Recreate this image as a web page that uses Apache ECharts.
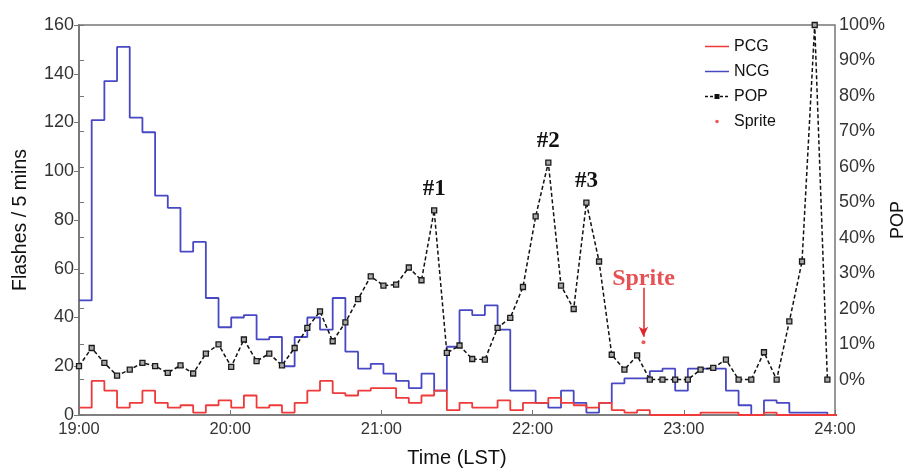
<!DOCTYPE html>
<html>
<head>
<meta charset="utf-8">
<script src="https://cdn.jsdelivr.net/npm/echarts@6/dist/echarts.min.js"></script>
<style>
  html, body { margin: 0; padding: 0; background: #fff; }
  #chart { width: 906px; height: 469px; }
</style>
</head>
<body>
<div id="chart"></div>
<script>
// Lightning flashes per 5-minute bin, 19:00–24:00 LST (60 bins)
const tickLabels = ['19:00', '20:00', '21:00', '22:00', '23:00', '24:00'];

const pcg = [3, 14, 10, 3, 5, 10, 5, 3, 4, 1, 4, 6, 3, 8, 3, 4, 1, 5, 10, 14,
             9, 8, 10, 11, 11, 7, 5, 8, 10, 2, 5, 3, 3, 6, 2, 5, 5, 7, 5, 4,
             3, 5, 2, 1, 2, 0, 0, 0, 0, 1, 1, 1, 0, 0, 1, 0, 0, 0, 0, 0];

const ncg = [47, 121, 137, 151, 122, 116, 90, 85, 67, 71, 48, 36, 40, 41, 31, 32, 20, 32, 40, 35,
             48, 26, 19, 21, 17, 14, 11, 17, 10, 28, 43, 41, 45, 35, 10, 10, 5, 3, 10, 5,
             1, 5, 13, 15, 15, 18, 19, 10, 19, 19, 19, 10, 4, 0, 6, 5, 1, 1, 1, 0];

// Percentage of positive CG flashes (%)
const pop = [3.8, 8.9, 4.7, 1.1, 2.8, 4.7, 3.8, 1.9, 4.0, 1.7, 7.3, 9.9, 3.6, 11.3, 5.2, 7.3, 4.0, 8.9, 14.6, 19.2,
             10.8, 16.1, 22.7, 29.1, 26.5, 26.8, 31.6, 28.0, 47.7, 7.5, 9.6, 5.8, 5.6, 14.6, 17.4, 26.1, 46.0, 61.2, 26.5, 19.9,
             49.9, 33.3, 7.0, 2.8, 6.8, 0, 0, 0, 0, 2.8, 3.3, 5.6, 0, 0, 7.7, 0, 16.4, 33.3, 100, 0];

// Sprite event: [bin position, POP %]
const sprite = [[44.5, 10.5]];

// Labelled POP peaks: [bin index, text]
const peakLabels = [[28, '#1'], [37, '#2'], [40, '#3']];

const RED = '#ee3a3a';
const BLUE = '#4848c4';
const AXIS = '#777';
const SANS = '"Liberation Sans", Arial, sans-serif';
const SERIF = '"Liberation Serif", "Times New Roman", serif';

// Hidden bin axis: the drawn frame spans this many 5-minute bins
const binAxisMax = 59.6;

function stepData(values) {
  const d = values.map((v, i) => [i, v]);
  d.push([values.length, values[values.length - 1]]);
  return d;
}

const popData = pop.map((v, i) => {
  const peak = peakLabels.find(p => p[0] === i);
  if (!peak) return [i, v];
  return {
    value: [i, v],
    label: {
      show: true, position: 'top', distance: 7,
      formatter: peak[1],
      fontFamily: SERIF, fontWeight: 'bold', fontSize: 23, color: '#111'
    }
  };
});

// Legend keys drawn as small SVG images
function svgIcon(body) {
  return 'image://data:image/svg+xml;utf8,' + encodeURIComponent(
    '<svg xmlns="http://www.w3.org/2000/svg" width="24" height="8" viewBox="0 0 24 8">' + body + '</svg>');
}
const iconPCG = svgIcon('<line x1="0" y1="4" x2="24" y2="4" stroke="' + RED + '" stroke-width="1.6"/>');
const iconNCG = svgIcon('<line x1="0" y1="4" x2="24" y2="4" stroke="' + BLUE + '" stroke-width="1.6"/>');
const iconPOP = svgIcon('<line x1="0" y1="4" x2="24" y2="4" stroke="#111" stroke-width="1.4" stroke-dasharray="3,2"/>' +
                        '<rect x="9.5" y="1.5" width="5" height="5" fill="#111"/>');
const iconSprite = svgIcon('<circle cx="12" cy="4" r="1.8" fill="#e8322e"/>');

const chart = echarts.init(document.getElementById('chart'), null, { renderer: 'canvas' });

chart.setOption({
  animation: false,
  backgroundColor: '#fff',
  textStyle: { fontFamily: SANS },
  grid: {
    left: 79, right: 71, top: 25, bottom: 54,
    outerBoundsMode: 'none',
    containLabel: false,
    show: true, borderColor: AXIS, borderWidth: 1.5, backgroundColor: 'transparent'
  },
  legend: {
    orient: 'vertical',
    left: 705, top: 38,
    itemWidth: 24, itemHeight: 8, itemGap: 8,
    padding: 0,
    textStyle: { fontSize: 16, color: '#111', lineHeight: 17, fontFamily: SANS },
    data: [
      { name: 'PCG', icon: iconPCG },
      { name: 'NCG', icon: iconNCG },
      { name: 'POP', icon: iconPOP },
      { name: 'Sprite', icon: iconSprite }
    ]
  },
  xAxis: [
    {
      type: 'value', min: 0, max: 300, interval: 60,
      axisLine: { show: true, lineStyle: { color: AXIS, width: 1.5 } },
      axisTick: { show: true, inside: true, length: 5, lineStyle: { color: AXIS } },
      splitLine: { show: false },
      axisLabel: {
        fontSize: 16.5, color: '#333', margin: 6,
        formatter: v => tickLabels[Math.round(v / 60)]
      },
      name: 'Time (LST)', nameLocation: 'middle', nameGap: 33,
      nameTextStyle: { fontSize: 20, color: '#111' }
    },
    {
      type: 'value', min: 0, max: binAxisMax, show: false
    }
  ],
  yAxis: [
    {
      type: 'value', min: 0, max: 160, interval: 20,
      axisLine: { show: true, lineStyle: { color: AXIS, width: 1.5 } },
      axisTick: { show: true, inside: false, length: 5, lineStyle: { color: AXIS } },
      splitLine: { show: false },
      axisLabel: { fontSize: 18, color: '#333', margin: 5 },
      name: 'Flashes / 5 mins', nameLocation: 'middle', nameGap: 48, nameRotate: 90,
      nameTextStyle: { fontSize: 19.5, color: '#111' }
    },
    {
      type: 'value', position: 'right', min: -10, max: 100, interval: 10,
      axisLine: { show: true, lineStyle: { color: AXIS, width: 1.5 } },
      axisTick: { show: true, inside: false, length: 5, lineStyle: { color: AXIS } },
      splitLine: { show: false },
      axisLabel: {
        fontSize: 18, color: '#333', margin: 4,
        formatter: v => (v < 0 ? '' : v + '%')
      },
      name: 'POP', nameLocation: 'middle', nameGap: 54, nameRotate: 90,
      nameMoveOverlap: false,
      nameTextStyle: { fontSize: 18, color: '#111' }
    }
  ],
  series: [
    {
      name: 'PCG', type: 'line', step: 'end',
      xAxisIndex: 1, yAxisIndex: 0,
      symbol: 'none',
      data: stepData(pcg),
      color: RED,
      lineStyle: { color: RED, width: 1.8 },
      z: 3
    },
    {
      name: 'NCG', type: 'line', step: 'end',
      xAxisIndex: 1, yAxisIndex: 0,
      symbol: 'none',
      data: stepData(ncg),
      color: BLUE,
      lineStyle: { color: BLUE, width: 1.8 },
      z: 2
    },
    {
      name: 'POP', type: 'line',
      xAxisIndex: 1, yAxisIndex: 1,
      symbol: 'rect', symbolSize: 5,
      data: popData,
      color: '#222',
      itemStyle: { color: '#a8a8a8', borderColor: '#1a1a1a', borderWidth: 1.3 },
      lineStyle: { color: '#111', width: 1.5, type: [4, 2.5] },
      z: 4
    },
    {
      name: 'Sprite', type: 'scatter',
      xAxisIndex: 1, yAxisIndex: 1,
      symbol: 'circle', symbolSize: 4,
      data: sprite,
      itemStyle: { color: '#e8322e' },
      label: {
        show: true, position: 'top', distance: 50,
        formatter: 'Sprite',
        fontFamily: SERIF, fontWeight: 'bold', fontSize: 24, color: '#e0262a'
      },
      markLine: {
        silent: true,
        symbol: ['none', 'arrow'],
        symbolSize: [7, 10],
        label: { show: false },
        lineStyle: { color: '#e0262a', width: 1.5, type: 'solid' },
        data: [[
          { coord: [sprite[0][0], 25.9] },
          { coord: [sprite[0][0], 12.1] }
        ]]
      },
      z: 5
    }
  ]
});
</script>
</body>
</html>
